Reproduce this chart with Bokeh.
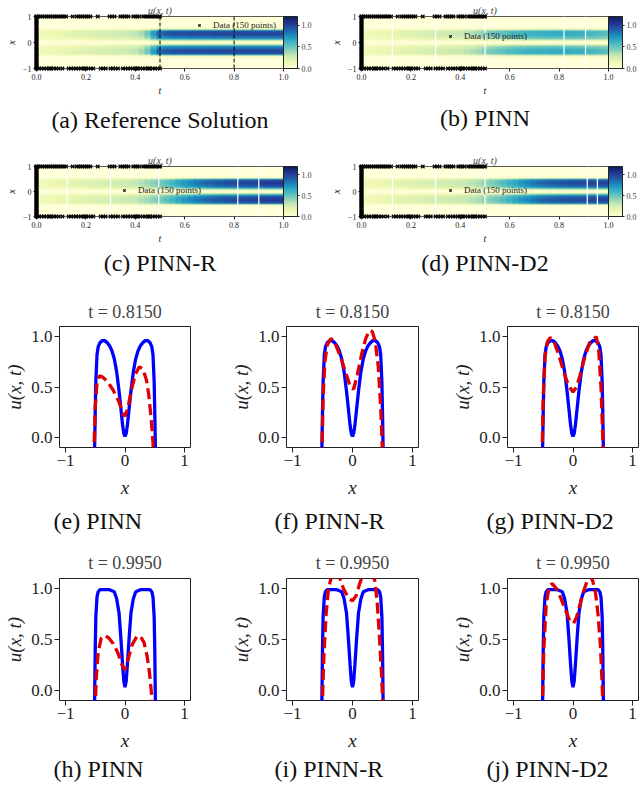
import numpy as np
from bokeh.plotting import figure
from bokeh.models import (Range1d, LinearColorMapper, ColorBar, FixedTicker, Span,
                          Title, Legend, LegendItem, PrintfTickFormatter)
from bokeh.layouts import row, column
from bokeh.palettes import YlGnBu9, interp_palette
from bokeh.embed import file_html
from bokeh.resources import INLINE

SERIF = "Liberation Serif"

# ---------------- heat-map data (x from -1 to 1 step 0.05, t from 0 to 1 step 0.025) ----------------
heat_profile = [0, 0, 0, 0, 0, 0, 0, 0, 0.02, 0.1, 0.55, 0.9, 0.96, 0.98, 0.96, 0.91, 0.82, 0.65, 0.42, 0.15,
                0.03,
                0.15, 0.42, 0.65, 0.82, 0.91, 0.96, 0.98, 0.96, 0.9, 0.55, 0.1, 0.02, 0, 0, 0, 0, 0, 0, 0, 0]
amp_ref = [0.12, 0.13, 0.15, 0.16, 0.18, 0.19, 0.2, 0.21, 0.22, 0.23, 0.24, 0.25, 0.26, 0.27, 0.28, 0.3, 0.32,
           0.38, 0.5, 0.72, 0.9, 0.95, 0.97, 0.98, 0.98, 0.99, 0.99, 0.99, 0.99, 1.0, 1.0, 1.0, 1.0, 1.0, 1.0,
           1.0, 1.0, 1.0, 1.0, 1.0, 1.0]
amp_pinn = [0.12, 0.13, 0.15, 0.16, 0.18, 0.19, 0.2, 0.21, 0.22, 0.23, 0.24, 0.25, 0.26, 0.27, 0.28, 0.29, 0.3,
            0.33, 0.36, 0.4, 0.45, 0.49, 0.52, 0.55, 0.58, 0.6, 0.62, 0.63, 0.64, 0.65, 0.65, 0.66, 0.66, 0.66,
            0.66, 0.65, 0.64, 0.62, 0.6, 0.58, 0.56]
amp_pinn_r = [0.12, 0.13, 0.15, 0.16, 0.18, 0.19, 0.2, 0.21, 0.22, 0.23, 0.24, 0.25, 0.26, 0.27, 0.28, 0.3, 0.32,
              0.36, 0.4, 0.45, 0.5, 0.56, 0.62, 0.69, 0.75, 0.8, 0.85, 0.89, 0.92, 0.95, 0.97, 0.99, 1.0, 1.01,
              1.02, 1.03, 1.04, 1.05, 1.06, 1.07, 1.08]
amp_pinn_d2 = [0.12, 0.13, 0.15, 0.16, 0.18, 0.19, 0.2, 0.21, 0.22, 0.23, 0.24, 0.25, 0.26, 0.27, 0.28, 0.29,
               0.3, 0.32, 0.35, 0.38, 0.42, 0.47, 0.52, 0.58, 0.64, 0.7, 0.76, 0.81, 0.86, 0.9, 0.93, 0.95, 0.97,
               0.98, 0.99, 1.0, 1.0, 1.01, 1.02, 1.02, 1.03]

# training data (150 points): initial condition at t=0 and boundaries x=+-1
init_x = [-1.0, -0.97, -0.94, -0.91, -0.88, -0.85, -0.81, -0.78, -0.74, -0.7, -0.66, -0.62, -0.58, -0.55, -0.51,
          -0.47, -0.43, -0.39, -0.35, -0.31, -0.27, -0.23, -0.19, -0.15, -0.11, -0.07, -0.03, 0.01, 0.05, 0.09,
          0.13, 0.17, 0.21, 0.25, 0.29, 0.33, 0.37, 0.41, 0.45, 0.49, 0.53, 0.57, 0.61, 0.65, 0.69, 0.73, 0.77,
          0.81, 0.85, 0.89, 0.93, 0.97, 1.0]
top_t = [0.0, 0.008, 0.016, 0.024, 0.032, 0.04, 0.048, 0.056, 0.064, 0.072, 0.08, 0.088, 0.096, 0.104, 0.112,
         0.12, 0.146, 0.162, 0.17, 0.178, 0.186, 0.194, 0.202, 0.21, 0.218, 0.248, 0.296, 0.306, 0.316, 0.34,
         0.348, 0.356, 0.364, 0.372, 0.392, 0.4, 0.408, 0.416, 0.432, 0.44, 0.448, 0.456, 0.464, 0.472, 0.48,
         0.488, 0.496, 0.5]
bot_t = [0.0, 0.01, 0.02, 0.03, 0.04, 0.05, 0.06, 0.07, 0.08, 0.09, 0.13, 0.14, 0.15, 0.16, 0.17, 0.18, 0.19,
         0.2, 0.21, 0.22, 0.23, 0.26, 0.27, 0.28, 0.3, 0.31, 0.32, 0.33, 0.35, 0.36, 0.37, 0.38, 0.39, 0.4, 0.41,
         0.42, 0.43, 0.44, 0.45, 0.46, 0.47, 0.48, 0.49, 0.5, 0.055, 0.105, 0.195, 0.405, 0.455]

white_b = [0.125, 0.30, 0.50, 0.82, 0.907]
white_c = [0.124, 0.30, 0.495, 0.815, 0.90]
white_d = [0.125, 0.30, 0.50, 0.914, 0.955]
dashed_a = [0.5, 0.8]

# ---------------- snapshot data ----------------
bx = [-0.6, -0.53, -0.51, -0.5, -0.49, -0.47, -0.45, -0.42, -0.38, -0.34, -0.3, -0.26, -0.22, -0.18, -0.14, -0.1,
      -0.07, -0.04, -0.02, 0.0, 0.02, 0.04, 0.07, 0.1, 0.14, 0.18, 0.22, 0.26, 0.3, 0.34, 0.38, 0.42, 0.45, 0.47,
      0.49, 0.5, 0.51, 0.53, 0.6]
ref_815 = [-1.0, -0.6, -0.1, 0.25, 0.55, 0.82, 0.9, 0.94, 0.96, 0.96, 0.94, 0.91, 0.86, 0.78, 0.65, 0.46, 0.29,
           0.12, 0.04, 0.01, 0.04, 0.12, 0.29, 0.46, 0.65, 0.78, 0.86, 0.91, 0.94, 0.96, 0.96, 0.94, 0.9, 0.82,
           0.55, 0.25, -0.1, -0.6, -1.0]
ref_995 = [-1.0, -0.7, -0.1, 0.4, 0.72, 0.92, 0.97, 0.99, 0.99, 0.99, 0.99, 0.99, 0.98, 0.97, 0.9, 0.76, 0.52,
           0.25, 0.09, 0.03, 0.09, 0.25, 0.52, 0.76, 0.9, 0.97, 0.98, 0.99, 0.99, 0.99, 0.99, 0.99, 0.97, 0.92,
           0.72, 0.4, -0.1, -0.7, -1.0]

pinn_815_x = [-0.55, -0.52, -0.5, -0.47, -0.43, -0.38, -0.3, -0.2, -0.1, -0.03, 0.0, 0.05, 0.1, 0.17, 0.24, 0.3,
              0.36, 0.4, 0.44, 0.47, 0.5, 0.53]
pinn_815_u = [-1.0, -0.1, 0.3, 0.55, 0.61, 0.6, 0.56, 0.47, 0.35, 0.23, 0.21, 0.3, 0.45, 0.62, 0.7, 0.68, 0.57,
              0.42, 0.18, -0.05, -0.5, -1.0]
pinnr_815_x = [-0.55, -0.51, -0.49, -0.46, -0.42, -0.36, -0.3, -0.2, -0.1, -0.03, 0.02, 0.08, 0.15, 0.22, 0.28,
               0.33, 0.38, 0.43, 0.47, 0.49, 0.51, 0.55]
pinnr_815_u = [-1.0, -0.2, 0.4, 0.75, 0.92, 0.98, 0.95, 0.8, 0.62, 0.49, 0.48, 0.62, 0.82, 0.98, 1.06, 1.05,
               0.95, 0.7, 0.3, 0.0, -0.3, -1.0]
pinnd2_815_x = [-0.55, -0.52, -0.5, -0.47, -0.43, -0.38, -0.32, -0.24, -0.16, -0.08, 0.0, 0.06, 0.12, 0.2, 0.28,
                0.34, 0.39, 0.43, 0.47, 0.5, 0.52, 0.55]
pinnd2_815_u = [-1.0, -0.2, 0.4, 0.8, 0.95, 0.99, 0.95, 0.82, 0.66, 0.52, 0.45, 0.5, 0.62, 0.8, 0.94, 0.97, 1.0,
                0.88, 0.5, 0.0, -0.4, -1.0]

pinn_995_x = [-0.55, -0.51, -0.48, -0.45, -0.4, -0.35, -0.28, -0.2, -0.12, -0.05, 0.0, 0.05, 0.12, 0.2, 0.26,
              0.32, 0.37, 0.41, 0.44, 0.46, 0.5]
pinn_995_u = [-1.0, -0.3, 0.15, 0.38, 0.51, 0.54, 0.52, 0.46, 0.37, 0.25, 0.2, 0.3, 0.45, 0.53, 0.53, 0.47,
              0.34, 0.18, 0.0, -0.2, -1.0]
pinnr_995_x = [-0.55, -0.51, -0.48, -0.44, -0.4, -0.35, -0.28, -0.22, -0.15, -0.07, 0.0, 0.06, 0.12, 0.18, 0.26,
               0.33, 0.37, 0.41, 0.45, 0.48, 0.5, 0.53, 0.56]
pinnr_995_u = [-1.0, -0.3, 0.3, 0.75, 1.0, 1.12, 1.18, 1.12, 1.0, 0.91, 0.88, 0.93, 1.05, 1.15, 1.22, 1.18,
               1.08, 0.88, 0.52, 0.2, -0.05, -0.5, -1.0]
pinnd2_995_x = [-0.55, -0.52, -0.49, -0.45, -0.4, -0.35, -0.28, -0.2, -0.12, -0.05, 0.01, 0.06, 0.12, 0.18, 0.24,
                0.29, 0.33, 0.38, 0.42, 0.46, 0.49, 0.52, 0.55]
pinnd2_995_u = [-1.0, -0.3, 0.4, 0.85, 1.02, 1.05, 1.0, 0.9, 0.78, 0.68, 0.66, 0.72, 0.85, 0.98, 1.08, 1.12,
                1.08, 0.95, 0.75, 0.45, 0.05, -0.4, -1.0]

mapper = LinearColorMapper(palette=interp_palette(YlGnBu9[::-1], 256), low=0, high=1.2)


def style_axes(p, tick_size, lab_size, tick_out, lab_standoff, xlab_standoff, ylab_standoff):
    p.grid.visible = False
    p.outline_line_color = "#222222"
    p.outline_line_width = 1
    for ax in (p.xaxis[0], p.yaxis[0]):
        ax.axis_line_color = None
        ax.major_tick_line_color = "#222222"
        ax.major_tick_out = tick_out
        ax.major_tick_in = 0
        ax.minor_tick_line_color = None
        ax.major_label_text_font = SERIF
        ax.major_label_text_font_size = tick_size
        ax.major_label_text_color = "#222222"
        ax.major_label_standoff = lab_standoff
        ax.axis_label_text_font = SERIF
        ax.axis_label_text_font_size = lab_size
        ax.axis_label_text_font_style = "italic"
        ax.axis_label_text_color = "#222222"
    p.xaxis[0].axis_label_standoff = xlab_standoff
    p.yaxis[0].axis_label_standoff = ylab_standoff


def caption(p, text, standoff, align="center", offset=0):
    p.add_layout(Title(text=text, align=align, text_font=SERIF, text_font_size="24px",
                       text_font_style="normal", text_color="#111111", standoff=standoff, offset=offset),
                 "below")


def heat(amp, cap, w, h, left, top, fh, right, white_t, dashed_t, leg_xy, cap_standoff):
    p = figure(width=w, height=h, x_range=Range1d(0, 1), y_range=Range1d(-1, 1),
               output_backend="svg", toolbar_location=None,
               min_border_left=left, min_border_top=top, min_border_right=right,
               min_border_bottom=h - top - fh, x_axis_label="t", y_axis_label="x")
    img = np.outer(np.array(heat_profile), np.array(amp))
    p.image(image=[img], x=0, y=-1, dw=1, dh=2, color_mapper=mapper)
    for t in white_t:
        p.add_layout(Span(location=t, dimension="height", line_color="white", line_width=1.2))
    for t in dashed_t:
        p.add_layout(Span(location=t, dimension="height", line_color="black", line_width=1,
                          line_dash="4 2"))
    xs = [0.0] * len(init_x) + top_t + bot_t
    ys = init_x + [1.0] * len(top_t) + [-1.0] * len(bot_t)
    pts = p.scatter(xs, ys, marker="x", size=5, line_color="black", line_width=1.2, level="overlay")
    leg = Legend(items=[LegendItem(label="Data (150 points)", renderers=[pts])], location=leg_xy,
                 background_fill_alpha=0, border_line_alpha=0, padding=0, margin=0, spacing=0,
                 glyph_width=8, glyph_height=8, label_height=8, label_standoff=10,
                 label_text_font=SERIF, label_text_font_size="9px", label_text_color="#222222")
    p.add_layout(leg)
    cb = ColorBar(color_mapper=mapper, ticker=FixedTicker(ticks=[0, 0.5, 1.0]),
                  formatter=PrintfTickFormatter(format="%.1f"), width=14, padding=0, margin=4,
                  bar_line_color="#222222", major_tick_out=2, major_tick_in=0,
                  major_tick_line_color="#222222", label_standoff=2,
                  major_label_text_font=SERIF, major_label_text_font_size="8px",
                  background_fill_alpha=0)
    p.add_layout(cb, "right")
    p.title.text = "u(x, t)"
    p.title.align = "center"
    p.title.text_font = SERIF
    p.title.text_font_size = "10px"
    p.title.text_font_style = "italic"
    p.title.standoff = 2
    style_axes(p, "8px", "10px", 3, 2, 2, 3)
    p.xaxis.ticker = FixedTicker(ticks=[0, 0.2, 0.4, 0.6, 0.8, 1.0])
    p.xaxis.formatter = PrintfTickFormatter(format="%.1f")
    p.yaxis.ticker = FixedTicker(ticks=[-1, 0, 1])
    p.yaxis.major_label_overrides = {-1: "\u22121", 0: "0", 1: "1"}
    p.yaxis.major_label_orientation = "horizontal"
    caption(p, cap, cap_standoff)
    return p


def snap(sx, su, px, pu, tt, cap, w, h, left, top, fh, right, title_standoff, xlab_standoff,
         cap_standoff, cap_offset):
    p = figure(width=w, height=h, x_range=Range1d(-1.1, 1.1), y_range=Range1d(-0.1, 1.1),
               output_backend="svg", toolbar_location=None,
               min_border_left=left, min_border_top=top, min_border_right=right,
               min_border_bottom=h - top - fh, x_axis_label="x", y_axis_label="u(x, t)")
    p.line(sx, su, line_color="blue", line_width=3.3)
    p.line(px, pu, line_color="#e00000", line_width=3.3, line_dash="11 5")
    p.title.text = tt
    p.title.align = "center"
    p.title.text_font = SERIF
    p.title.text_font_size = "18px"
    p.title.text_font_style = "normal"
    p.title.standoff = title_standoff
    style_axes(p, "17px", "19px", 5, 2, xlab_standoff, 3)
    p.xaxis.ticker = FixedTicker(ticks=[-1, 0, 1])
    p.xaxis.major_label_overrides = {-1: "\u22121", 0: "0", 1: "1"}
    p.yaxis.ticker = FixedTicker(ticks=[0, 0.5, 1.0])
    p.yaxis.formatter = PrintfTickFormatter(format="%.1f")
    caption(p, cap, cap_standoff, "left", cap_offset)
    return p


fa = heat(amp_ref, "(a) Reference Solution", 321, 140, 36, 16, 52, 38, [], dashed_a, (159, 38), 12)
fb = heat(amp_pinn, "(b) PINN", 321, 140, 40, 16, 56, 34, white_b, [], (85, 27), 8)
fc = heat(amp_pinn_r, "(c) PINN-R", 321, 150, 36, 26, 50, 38, white_c, [], (84, 21), 2)
fd = heat(amp_pinn_d2, "(d) PINN-D2", 321, 150, 40, 26, 50, 34, white_d, [], (85, 21), 2)

fe = snap(bx, ref_815, pinn_815_x, pinn_815_u, "t = 0.8150", "(e) PINN", 214, 250, 59, 36, 121, 24,
          10, 8, 11, -6)
ff = snap(bx, ref_815, pinnr_815_x, pinnr_815_u, "t = 0.8150", "(f) PINN-R", 214, 250, 72, 36, 121, 10,
          10, 8, 11, -12)
fg = snap(bx, ref_815, pinnd2_815_x, pinnd2_815_u, "t = 0.8150", "(g) PINN-D2", 214, 250, 79, 36, 121, 4,
          10, 8, 11, -21)
fh = snap(bx, ref_995, pinn_995_x, pinn_995_u, "t = 0.9950", "(h) PINN", 214, 245, 59, 38, 122, 24,
          11, 8, 0, -6)
fi = snap(bx, ref_995, pinnr_995_x, pinnr_995_u, "t = 0.9950", "(i) PINN-R", 214, 245, 72, 38, 122, 10,
          11, 8, 0, -12)
fj = snap(bx, ref_995, pinnd2_995_x, pinnd2_995_u, "t = 0.9950", "(j) PINN-D2", 214, 245, 79, 38, 122, 4,
          11, 8, 0, -21)

layout = column(row(fa, fb), row(fc, fd), row(fe, ff, fg), row(fh, fi, fj))

open("out.html", "w").write(file_html(layout, INLINE))
